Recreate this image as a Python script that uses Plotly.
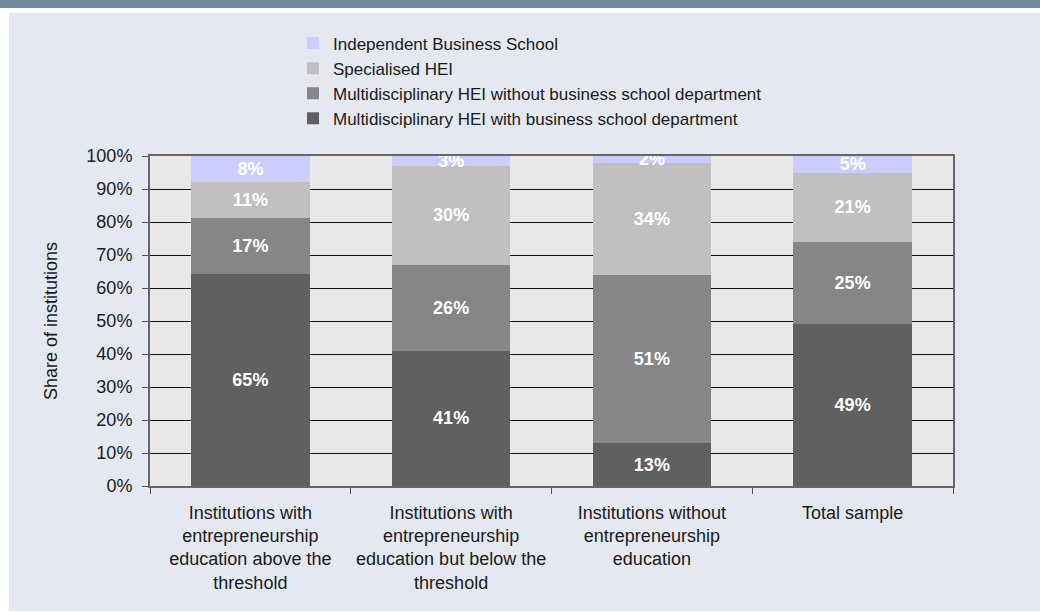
import plotly.graph_objects as go

categories = [
    "Institutions with<br>entrepreneurship<br>education above the<br>threshold",
    "Institutions with<br>entrepreneurship<br>education but below the<br>threshold",
    "Institutions without<br>entrepreneurship<br>education",
    "Total sample",
]
series_names = [
    "Multidisciplinary HEI with business school department",
    "Multidisciplinary HEI without business school department",
    "Specialised HEI",
    "Independent Business School",
]
with_bs = [65, 41, 13, 49]
without_bs = [17, 26, 51, 25]
specialised = [11, 30, 34, 21]
independent = [8, 3, 2, 5]
series_values = [with_bs, without_bs, specialised, independent]
colors = ["#606060", "#868686", "#C0C0C0", "#CCCCFF"]
tick_vals = [0, 10, 20, 30, 40, 50, 60, 70, 80, 90, 100]
tick_text = ["0%", "10%", "20%", "30%", "40%", "50%", "60%", "70%", "80%", "90%", "100%"]

FONT = "Liberation Sans, Arial, sans-serif"
FS = 18
TXT = "#1a1a1a"

fig = go.Figure()
for name, vals, col in zip(series_names, series_values, colors):
    fig.add_trace(go.Bar(
        x=categories, y=vals, name=name,
        marker=dict(color=col, line=dict(width=0)),
        text=[f"{v}%" for v in vals], texttemplate="%{text}",
        textposition="inside", insidetextanchor="middle",
        textangle=0, constraintext="none",
        textfont=dict(family=FONT, size=FS, color="white", weight="bold"),
    ))

# plot area px: x 150..953, y 156..486
L, R, T, B = 150, 87, 156, 126
W, H = 1040, 612
pw, ph = W - L - R, H - T - B
def px_x(p):
    return (p - L) / pw
def px_y(p):
    return (H - B - p) / ph

shapes = [
    dict(type="rect", xref="paper", yref="paper", x0=px_x(-5), x1=px_x(W + 5), y0=px_y(13), y1=px_y(-5),
         fillcolor="white", line=dict(width=0), layer="below"),
    dict(type="rect", xref="paper", yref="paper", x0=px_x(-5), x1=px_x(W + 5), y0=px_y(8), y1=px_y(-5),
         fillcolor="#71899E", line=dict(width=0), layer="below"),
    dict(type="rect", xref="paper", yref="paper", x0=px_x(-5), x1=px_x(9), y0=px_y(H + 5), y1=px_y(8),
         fillcolor="white", line=dict(width=0), layer="below"),
    dict(type="rect", xref="paper", yref="paper", x0=px_x(-5), x1=px_x(W + 5), y0=px_y(H + 5), y1=px_y(611),
         fillcolor="white", line=dict(width=0), layer="below"),
]

fig.update_layout(
    width=W, height=H,
    margin=dict(l=L, r=R, t=T, b=B, autoexpand=False),
    barmode="stack", barnorm="percent", bargap=0.41,
    paper_bgcolor="#E4E8F1", plot_bgcolor="#E8E8E8",
    font=dict(family=FONT, size=FS, color=TXT),
    shapes=shapes,
    showlegend=True,
    legend=dict(
        x=px_x(293), y=px_y(25.5), xanchor="left", yanchor="top",
        traceorder="reversed", bgcolor="rgba(0,0,0,0)",
        font=dict(family=FONT, size=17, color=TXT),
    ),
    xaxis=dict(
        type="category", tickson="boundaries", ticks="outside", ticklen=6,
        tickcolor="#555555", tickwidth=1,
        showline=True, linecolor="#666666", linewidth=2, mirror=True,
        showgrid=False, ticklabelstandoff=9, automargin=False,
        tickfont=dict(family=FONT, size=FS, color=TXT),
    ),
    yaxis=dict(
        range=[0, 100], tickvals=tick_vals, ticktext=tick_text,
        ticks="outside", ticklen=6, tickcolor="#555555", tickwidth=1,
        showline=True, linecolor="#666666", linewidth=2, mirror=True,
        showgrid=True, gridcolor="#111111", gridwidth=1,
        zeroline=False, automargin=False, ticklabelstandoff=6,
        tickfont=dict(family=FONT, size=FS, color=TXT),
        title=dict(text="Share of institutions", standoff=24,
                   font=dict(family=FONT, size=FS, color=TXT)),
    ),
)

fig.write_html("out.html", config={"displayModeBar": False},
               post_script="document.body.style.margin='0';")
